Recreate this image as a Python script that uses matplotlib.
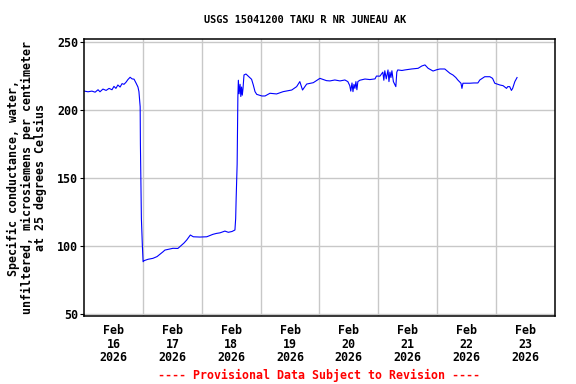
import matplotlib
matplotlib.use("Agg")
import matplotlib.pyplot as plt

# Hours since Feb 16 2026 00:00
hours = [0, 1.5, 3.1, 4.4, 5.6, 6.4, 7.6, 8.9, 10.1, 11.3, 12.1, 12.9, 13.7, 14.6, 15.4,
         16.2, 17.0, 17.8, 18.7, 19.5, 20.3, 21.1, 21.9, 22.3, 22.8, 22.9, 23.1, 23.3, 23.7,
         24.0, 24.4, 26.0, 28.0, 29.7, 30.9, 32.1, 32.9, 34.6, 36.2, 38.2, 39.8, 40.7, 41.8,
         43.3, 44.5, 47.2, 50.0, 51.3, 52.5, 54.0, 55.4, 57.4, 58.8, 60.3, 61.5, 61.8, 62.0,
         62.4, 62.7, 62.9, 63.2, 63.6, 63.9, 64.2, 64.5, 64.8, 65.2, 66.0, 66.9, 68.3, 69.0,
         69.7, 70.4, 72.5, 73.8, 75.8, 78.5, 81.2, 84.7, 86.7, 88.0, 89.1, 90.8, 93.5, 96.2,
         98.9, 100.3, 102.3, 104.4, 106.4, 107.6, 108.4, 108.8, 109.3, 109.7, 110.1, 110.5,
         110.9, 111.3, 111.7, 112.5, 114.6, 116.6, 118.7, 119.3, 120.7, 121.9, 122.3, 122.7,
         123.3, 124.0, 124.4, 124.8, 125.2, 125.6, 126.2, 127.2, 127.6, 128.0, 129.7, 130.9,
         133.6, 136.3, 137.8, 139.1, 140.4, 142.4, 144.0, 145.2, 147.2, 149.3, 150.5, 151.7,
         152.5, 153.8, 154.2, 154.6, 156.1, 157.4, 159.1, 160.7, 161.5, 163.5, 165.6, 166.7,
         167.6, 169.7, 171.0, 172.4, 172.9, 173.7, 174.4, 174.9, 175.8, 176.7]
conductance = [214.0, 213.5, 214.0, 213.2, 215.0, 213.5, 215.5, 214.5, 216.0, 215.0, 217.5,
               216.0, 218.5, 217.0, 219.5, 219.0, 220.5, 222.5, 224.2, 223.0, 222.8, 220.0,
               217.0, 213.6, 202.5, 175.0, 145.0, 120.0, 100.0, 88.2, 89.0, 90.0, 90.7, 92.0,
               93.7, 95.5, 96.8, 97.5, 98.1, 98.0, 100.5, 102.0, 104.2, 107.9, 106.6, 106.4,
               106.6, 107.5, 108.4, 109.1, 109.5, 110.8, 109.9, 110.5, 111.6, 120.0, 135.0,
               160.0, 210.0, 222.0, 212.0, 219.0, 210.0, 217.0, 211.0, 216.0, 225.9, 226.6,
               225.1, 222.7, 218.5, 213.6, 211.6, 210.4, 210.4, 212.4, 211.9, 213.6, 214.8,
               217.3, 221.0, 214.8, 219.2, 220.2, 223.4, 221.7, 221.5, 222.2, 221.5, 222.2,
               221.0, 218.0, 214.0, 220.0, 213.6, 219.0, 216.0, 221.0, 215.0, 221.0, 222.0,
               222.9, 222.5, 223.0, 225.1, 225.0, 228.0, 222.0, 229.0, 223.0, 229.6, 221.0,
               228.0, 224.0, 229.0, 221.0, 217.3, 228.0, 229.6, 229.2, 229.6, 230.3, 230.8,
               232.5, 233.3, 230.8, 228.8, 229.8, 230.3, 230.3, 227.1, 225.9, 224.0, 222.2,
               219.8, 216.0, 219.8, 219.8, 219.8, 220.0, 220.0, 222.2, 224.6, 224.6, 223.4,
               219.8, 218.5, 218.0, 216.0, 217.3, 217.3, 214.5, 216.0, 221.0, 224.0]

day_labels = ["Feb\n16\n2026", "Feb\n17\n2026", "Feb\n18\n2026", "Feb\n19\n2026",
              "Feb\n20\n2026", "Feb\n21\n2026", "Feb\n22\n2026", "Feb\n23\n2026"]
y_ticks = [50, 100, 150, 200, 250]

title = "USGS 15041200 TAKU R NR JUNEAU AK"
ylabel = "Specific conductance, water,\nunfiltered, microsiemens per centimeter\nat 25 degrees Celsius"
footer = "---- Provisional Data Subject to Revision ----"

FONT = "DejaVu Sans Mono"

fig = plt.figure(figsize=(5.76, 3.84), dpi=100)
ax = fig.add_axes([0.1464, 0.1771, 0.8163, 0.7206])

ax.plot(hours, conductance, color="#0000ff", linewidth=0.8)

ax.set_xlim(0, 192)
ax.set_ylim(48.2, 252.2)

ax.set_xticks([12 + 24 * i for i in range(len(day_labels))])
ax.set_xticklabels(day_labels, fontfamily=FONT, fontweight="bold", fontsize=8.4,
                   linespacing=1.05)
ax.set_xticks([24 * i for i in range(1, 8)], minor=True)
ax.tick_params(axis="x", which="both", length=0, pad=6)

ax.set_yticks(y_ticks)
ax.set_yticklabels([str(v) for v in y_ticks], fontfamily=FONT, fontweight="bold", fontsize=8.4)
ax.tick_params(axis="y", which="major", length=3, width=0.8, pad=1.5)

ax.grid(True, which="minor", axis="x", color="#c8c8c8", linewidth=1.0)
ax.grid(True, which="major", axis="y", color="#c8c8c8", linewidth=1.0)
ax.set_axisbelow(True)

for s in ax.spines.values():
    s.set_linewidth(1.1)
    s.set_color("black")

fig.text(0.047, 0.5377, ylabel, rotation=90, ha="center", va="center",
         fontfamily=FONT, fontweight="bold", fontsize=8.4, linespacing=1.03)
fig.text(0.53, 0.948, title, ha="center", va="center",
         fontfamily=FONT, fontweight="bold", fontsize=7.4)
fig.text(0.554, 0.023, footer, ha="center", va="center", color="#ff0000",
         fontfamily=FONT, fontweight="bold", fontsize=8.4)

fig.savefig("out.png", dpi=100)
